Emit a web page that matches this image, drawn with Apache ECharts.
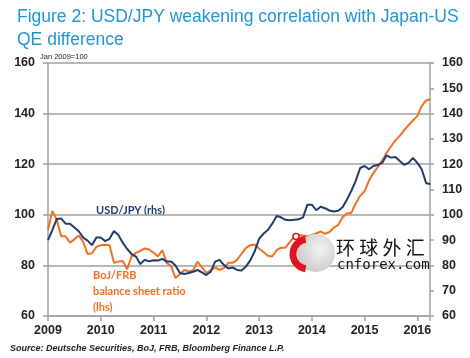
<!DOCTYPE html>
<html><head><meta charset="utf-8">
<script src="https://cdn.jsdelivr.net/npm/echarts@6/dist/echarts.min.js"></script>
<style>html,body{margin:0;padding:0;background:#fff}#c{width:470px;height:358px}</style>
</head><body><div id="c"></div>
<script>
const titleText = 'Figure 2: USD/JPY weakening correlation with Japan-US\nQE difference';
const indexNote = 'Jan 2009=100';
const sourceText = 'Source: Deutsche Securities, BoJ, FRB, Bloomberg Finance L.P.';
const startYear = 2009;          // first monthly point = Jan 2009
const endYear = 2016.24;         // right edge of the plot
const usdLabel = 'USD/JPY (rhs)';
const bojLabel = 'BoJ/FRB\nbalance sheet ratio\n(lhs)';

// USD/JPY, monthly, Jan 2009 = 100 (right axis)
const usdJpy = [
  90, 94, 98.3, 98.5, 96.5, 96.5, 95, 93.5, 91, 89.8, 88, 91,
  91, 89.6, 90.5, 93.6, 92, 89, 86.5, 84.5, 83.5, 80.5, 82.2, 81.6,
  82, 81.9, 82.6, 81.5, 81.5, 80, 77, 76.6, 77, 77.5, 78.2, 77.2,
  76.2, 77.5, 81.5, 82.2, 80.2, 78.8, 79.2, 78.2, 78, 79.5, 82, 85.5,
  90.5, 92.5, 94, 96.5, 99.5, 99, 98, 97.8, 98, 98.2, 99, 104,
  104, 101.8, 103.2, 102.6, 101.7, 101.3, 101.6, 103, 106, 109.5, 113.5, 118.5,
  119.3, 118, 119.3, 119.7, 120.5, 123.5, 122.6, 122.8, 121.3, 119.8, 120.5, 122.5,
  120.5, 118, 112.5, 112.2
];
// BoJ/FRB balance sheet ratio, monthly, Jan 2009 = 100 (left axis)
const bojFrb = [
  94, 101.5, 98, 91.5, 91.5, 89, 90.3, 91.8, 89.3, 84.5, 84.8, 87.3,
  88, 88.2, 88, 81, 81.5, 81.7, 78.5, 83.5, 85, 85.7, 86.7, 86.3,
  85, 83.6, 86, 81, 79.7, 75, 76.5, 78.2, 77.7, 78, 81.5, 79.3,
  77, 78, 79.2, 78.2, 78.9, 81, 81, 82.2, 84.6, 86.8, 88, 88.3,
  86.7, 85.3, 83.8, 83.5, 86, 87, 87, 89.2, 91.5, 91.9, 91.8, 91.5,
  92, 92.6, 93.4, 92.5, 93.2, 94.9, 96, 99, 100.5, 100.8, 104.5, 107.5,
  109.3, 113.5, 116.5, 118.8, 121.5, 124.4, 127, 129.4, 131.2, 133.5, 135.5, 137.3,
  139, 143, 145.2, 145.7
];

const toXY = arr => arr.map((v, i) => [startYear + i / 12, v]);
const blue = '#1f3d6d', orange = '#f36f21', grid = '#a0a0a0', lab = '#222';
const axisLabelStyle = {color: lab, fontSize: 12.5, fontWeight: 'bold', fontFamily: 'Liberation Sans'};

const chart = echarts.init(document.getElementById('c'), null, {renderer: 'canvas'});
chart.setOption({
  animation: false,
  backgroundColor: '#fff',
  title: {
    text: titleText, left: 12, top: 1,
    textStyle: {color: '#2196d6', fontSize: 17.5, fontWeight: 'normal', fontFamily: 'Liberation Sans', lineHeight: 23}
  },
  grid: {left: 48, right: 40, top: 63, bottom: 42},
  xAxis: {
    type: 'value', min: startYear, max: endYear, interval: 1,
    axisLine: {show: true, lineStyle: {color: grid, width: 1.5}},
    axisTick: {show: true, length: 5, lineStyle: {color: grid, width: 1.5}},
    splitLine: {show: false},
    axisLabel: Object.assign({margin: 8, formatter: v => Number.isInteger(v) ? String(v) : ''}, axisLabelStyle)
  },
  yAxis: [
    {
      type: 'value', min: 60, max: 160, interval: 20, position: 'left',
      axisLine: {show: true, lineStyle: {color: grid, width: 1.5}},
      axisTick: {show: true, length: 5, lineStyle: {color: grid, width: 1.5}},
      splitLine: {show: true, lineStyle: {color: grid, width: 1.5}},
      axisLabel: Object.assign({margin: 13}, axisLabelStyle)
    },
    {
      type: 'value', min: 60, max: 160, interval: 10, position: 'right',
      axisLine: {show: true, lineStyle: {color: grid, width: 1.5}},
      axisTick: {show: true, length: 4, lineStyle: {color: grid, width: 1.5}},
      splitLine: {show: false},
      axisLabel: Object.assign({margin: 12}, axisLabelStyle)
    }
  ],
  series: [
    {name: 'BoJ/FRB', type: 'line', yAxisIndex: 0, data: toXY(bojFrb), showSymbol: false,
     lineStyle: {color: orange, width: 2}, z: 3},
    {name: 'USD/JPY', type: 'line', yAxisIndex: 1, data: toXY(usdJpy), showSymbol: false,
     lineStyle: {color: blue, width: 2}, z: 4}
  ],
  graphic: [
    {type: 'text', left: 40, top: 53, style: {text: indexNote, fill: lab, font: '7.5px "Liberation Sans"'}},
    {type: 'text', left: 96, top: 205, style: {text: usdLabel, fill: blue, font: 'bold 11px Lato'}},
    {type: 'text', left: 93, top: 267, style: {text: bojLabel, fill: orange, font: 'bold 11px Lato', lineHeight: 16}},
    {type: 'text', left: 10, top: 344, style: {text: sourceText, fill: lab, font: 'italic bold 9px "Liberation Sans"'}},
    // watermark
    {type: 'circle', shape: {cx: 316, cy: 253, r: 19}, style: {fill: new echarts.graphic.RadialGradient(0.6, 0.4, 0.7, [{offset: 0, color: '#f2f2f2'}, {offset: 1, color: '#c8c8c8'}])}, z: 20},
    {type: 'arc', shape: {cx: 308, cy: 254, r: 15, startAngle: Math.PI * 0.55, endAngle: Math.PI * 1.45}, style: {stroke: '#e0141e', lineWidth: 7, fill: null}, z: 21},
    {type: 'circle', shape: {cx: 296, cy: 236.5, r: 3}, style: {fill: '#fff', stroke: '#e0141e', lineWidth: 1.5}, z: 22},
    {type: 'text', left: 336, top: 238, style: {text: '环 球 外 汇', fill: '#111', font: '19px "Noto Sans CJK SC"'}, z: 22},
    {type: 'text', left: 337, top: 258, style: {text: 'cnforex.com', fill: '#111', font: '14px "DejaVu Sans Mono"'}, z: 22}
  ]
});
</script></body></html>
